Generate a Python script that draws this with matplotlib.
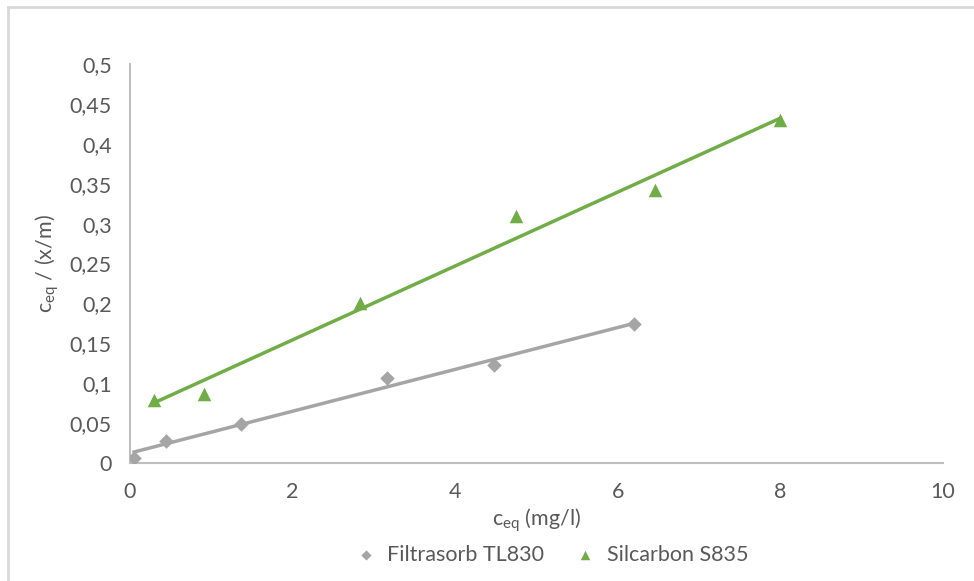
import matplotlib.pyplot as plt
import numpy as np

# Filtrasorb TL830
x_filtra = [0.05, 0.44, 1.37, 3.16, 4.48, 6.20]
y_filtra = [0.006, 0.028, 0.049, 0.1065, 0.123, 0.174]

# Silcarbon S835
x_silc = [0.30, 0.91, 2.83, 4.75, 6.46, 8.00]
y_silc = [0.079, 0.086, 0.200, 0.310, 0.342, 0.430]

x_ticks = [0, 2, 4, 6, 8, 10]
y_ticks = [0, 0.05, 0.1, 0.15, 0.2, 0.25, 0.3, 0.35, 0.4, 0.45, 0.5]

gray = '#a5a5a5'
green = '#70ad47'
axis_col = '#bfbfbf'
text_col = '#595959'
fs = 15.5

plt.rcParams['font.family'] = ['Lato', 'DejaVu Sans']

fig = plt.figure(figsize=(9.74, 5.81), dpi=100)
ax = fig.add_axes([0.1335, 0.2031, 0.8347, 0.6867])

# рамка вокруг всей диаграммы (видны только левая и верхняя стороны)
fig.add_artist(plt.Line2D([8 / 974, 8 / 974], [0, 1 - 7 / 581],
                          transform=fig.transFigure, color='#d9d9d9', lw=2))
fig.add_artist(plt.Line2D([8 / 974, 1], [1 - 7 / 581, 1 - 7 / 581],
                          transform=fig.transFigure, color='#d9d9d9', lw=2))

# линии тренда (линейная регрессия)
for xs, ys, col in [(x_filtra, y_filtra, gray), (x_silc, y_silc, green)]:
    k, b = np.polyfit(xs, ys, 1)
    xl = np.array([min(xs), max(xs)])
    ax.plot(xl, k * xl + b, color=col, lw=2.5, zorder=2)

ax.scatter(x_filtra, y_filtra, marker='D', s=55, color=gray, zorder=3,
           label='Filtrasorb TL830', linewidths=0)
ax.scatter(x_silc, y_silc, marker='^', s=95, color=green, zorder=3,
           label='Silcarbon S835', linewidths=0)

ax.set_xlim(0, 10)
ax.set_ylim(0, 0.5)
ax.set_xticks(x_ticks)
ax.set_yticks(y_ticks)
ax.set_xticklabels([str(t) for t in x_ticks])
ax.set_yticklabels([f'{t:g}'.replace('.', ',') for t in y_ticks])
ax.tick_params(length=0, labelsize=fs, colors=text_col)
ax.tick_params(axis='x', pad=14)
ax.tick_params(axis='y', pad=13)

for s in ['top', 'right']:
    ax.spines[s].set_visible(False)
for s in ['left', 'bottom']:
    ax.spines[s].set_color(axis_col)
    ax.spines[s].set_linewidth(1.5)

ax.set_xlabel(r'c$_{\mathregular{eq}}$ (mg/l)', fontsize=fs, color=text_col, labelpad=3)
ax.set_ylabel(r'c$_{\mathregular{eq}}$ / (x/m)', fontsize=fs, color=text_col, labelpad=6)

leg = ax.legend(loc='center', bbox_to_anchor=(0.512, -0.23), ncol=2, frameon=False,
                fontsize=fs, handletextpad=0.0, columnspacing=0.9, markerscale=0.7,
                borderaxespad=0)
for t in leg.get_texts():
    t.set_color(text_col)

fig.savefig('out.png', dpi=100, facecolor='white')
